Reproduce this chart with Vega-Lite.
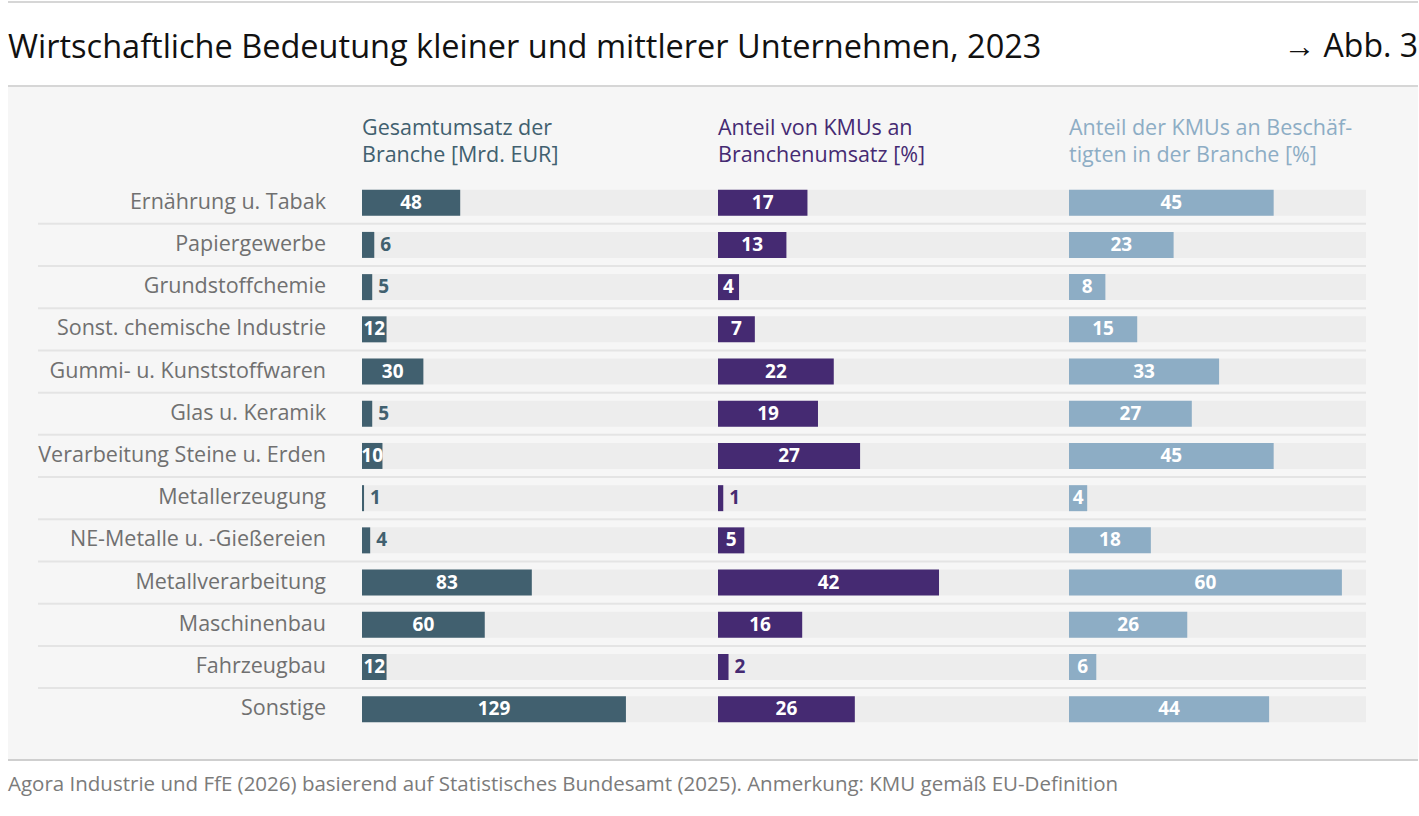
{
  "$schema": "https://vega.github.io/schema/vega-lite/v6.json",
  "background": "white",
  "padding": {"left": 7, "right": 2, "top": 1, "bottom": 0},
  "config": {
    "font": "Open Sans",
    "view": {"stroke": null},
    "title": {"anchor": "start", "frame": "group", "fontWeight": "normal"}
  },
  "datasets": {
    "kmu": [
      {"branche": "Ernährung u. Tabak", "umsatz": 48, "anteil_umsatz": 17, "anteil_besch": 45},
      {"branche": "Papiergewerbe", "umsatz": 6, "anteil_umsatz": 13, "anteil_besch": 23},
      {"branche": "Grundstoffchemie", "umsatz": 5, "anteil_umsatz": 4, "anteil_besch": 8},
      {"branche": "Sonst. chemische Industrie", "umsatz": 12, "anteil_umsatz": 7, "anteil_besch": 15},
      {"branche": "Gummi- u. Kunststoffwaren", "umsatz": 30, "anteil_umsatz": 22, "anteil_besch": 33},
      {"branche": "Glas u. Keramik", "umsatz": 5, "anteil_umsatz": 19, "anteil_besch": 27},
      {"branche": "Verarbeitung Steine u. Erden", "umsatz": 10, "anteil_umsatz": 27, "anteil_besch": 45},
      {"branche": "Metallerzeugung", "umsatz": 1, "anteil_umsatz": 1, "anteil_besch": 4},
      {"branche": "NE-Metalle u. -Gießereien", "umsatz": 4, "anteil_umsatz": 5, "anteil_besch": 18},
      {"branche": "Metallverarbeitung", "umsatz": 83, "anteil_umsatz": 42, "anteil_besch": 60},
      {"branche": "Maschinenbau", "umsatz": 60, "anteil_umsatz": 16, "anteil_besch": 26},
      {"branche": "Fahrzeugbau", "umsatz": 12, "anteil_umsatz": 2, "anteil_besch": 6},
      {"branche": "Sonstige", "umsatz": 129, "anteil_umsatz": 26, "anteil_besch": 44}
    ]
  },
  "spacing": 0,
  "vconcat": [
    {
      "spacing": 0,
      "bounds": "flush",
      "hconcat": [
        {
          "width": 1000,
          "height": 84,
          "title": {"text": "Wirtschaftliche Bedeutung kleiner und mittlerer Unternehmen, 2023", "fontSize": 32.5, "color": "#111111", "anchor": "start", "offset": -63},
          "data": {"values": [{}]},
          "layer": [
            {"mark": {"type": "rule", "color": "#c8c8c8", "strokeWidth": 1.5}, "encoding": {"y": {"datum": 1, "type": "quantitative", "scale": {"domain": [0, 1]}, "axis": null}}},
            {"mark": {"type": "rule", "color": "#c8c8c8", "strokeWidth": 1.5}, "encoding": {"y": {"datum": 0, "type": "quantitative", "scale": {"domain": [0, 1]}, "axis": null}}}
          ]
        },
        {
          "width": 410,
          "height": 84,
          "title": {"text": "→ Abb. 3", "fontSize": 32, "color": "#111111", "anchor": "end", "offset": -63},
          "data": {"values": [{}]},
          "layer": [
            {"mark": {"type": "rule", "color": "#c8c8c8", "strokeWidth": 1.5}, "encoding": {"y": {"datum": 1, "type": "quantitative", "scale": {"domain": [0, 1]}, "axis": null}}},
            {"mark": {"type": "rule", "color": "#c8c8c8", "strokeWidth": 1.5}, "encoding": {"y": {"datum": 0, "type": "quantitative", "scale": {"domain": [0, 1]}, "axis": null}}}
          ]
        }
      ]
    },
    {
      "spacing": 0,
      "bounds": "flush",
      "hconcat": [
        {
          "width": 30,
          "height": 672,
          "view": {"fill": "#f6f6f6", "stroke": null},
          "data": {"values": []},
          "mark": "rule",
          "encoding": {}
        },
        {
          "width": 324,
          "height": 672,
          "view": {"fill": "#f6f6f6", "stroke": null},
          "data": {"name": "kmu"},
          "encoding": {
            "y": {"field": "branche", "type": "nominal", "sort": null, "axis": null,
              "scale": {"domain": ["Ernährung u. Tabak", "Papiergewerbe", "Grundstoffchemie", "Sonst. chemische Industrie", "Gummi- u. Kunststoffwaren", "Glas u. Keramik", "Verarbeitung Steine u. Erden", "Metallerzeugung", "NE-Metalle u. -Gießereien", "Metallverarbeitung", "Maschinenbau", "Fahrzeugbau", "Sonstige"], "range": [94.6, 643.3], "paddingInner": 0, "paddingOuter": 0}}
          },
          "layer": [
            {
              "transform": [{"filter": "datum.branche !== 'Sonstige'"}],
              "mark": {"type": "rule", "color": "#e4e4e4", "strokeWidth": 2},
              "encoding": {"y": {"field": "branche", "type": "nominal", "sort": null, "bandPosition": 1}}
            },
            {
              "mark": {"type": "text", "align": "right", "baseline": "middle", "dx": -36, "fontSize": 21.5, "color": "#707070"},
              "encoding": {
                "x": {"datum": 1, "type": "quantitative", "scale": {"domain": [0, 1]}, "axis": null},
                "text": {"field": "branche"}
              }
            }
          ]
        },
        {
          "width": 356,
          "height": 672,
          "view": {"fill": "#f6f6f6", "stroke": null},
          "title": {"text": ["Gesamtumsatz der", "Branche [Mrd. EUR]"], "fontSize": 21.5, "lineHeight": 27, "color": "#41606f", "offset": -79},
          "data": {"name": "kmu"},
          "encoding": {
            "y": {"field": "branche", "type": "nominal", "sort": null, "axis": null,
              "scale": {"domain": ["Ernährung u. Tabak", "Papiergewerbe", "Grundstoffchemie", "Sonst. chemische Industrie", "Gummi- u. Kunststoffwaren", "Glas u. Keramik", "Verarbeitung Steine u. Erden", "Metallerzeugung", "NE-Metalle u. -Gießereien", "Metallverarbeitung", "Maschinenbau", "Fahrzeugbau", "Sonstige"], "range": [94.6, 643.3], "paddingInner": 0, "paddingOuter": 0}}
          },
          "layer": [
            {
              "transform": [{"filter": "datum.branche !== 'Sonstige'"}],
              "mark": {"type": "rule", "color": "#e4e4e4", "strokeWidth": 2},
              "encoding": {"y": {"field": "branche", "type": "nominal", "sort": null, "bandPosition": 1}}
            },
            {
              "mark": {"type": "bar", "color": "#ededed", "height": {"band": 0.616}},
              "encoding": {"x": {"datum": 174, "type": "quantitative", "scale": {"domain": [0, 174], "nice": false}, "axis": null}}
            },
            {
              "mark": {"type": "bar", "color": "#41606f", "height": {"band": 0.616}},
              "encoding": {"x": {"field": "umsatz", "type": "quantitative", "scale": {"domain": [0, 174], "nice": false}, "axis": null}}
            },
            {
              "transform": [{"filter": "datum.umsatz >= 10"}],
              "mark": {"type": "text", "color": "white", "fontWeight": "bold", "fontSize": 19, "baseline": "middle"},
              "encoding": {
                "x": {"field": "umsatz", "type": "quantitative", "stack": "zero", "bandPosition": 0.5, "scale": {"domain": [0, 174], "nice": false}, "axis": null},
                "text": {"field": "umsatz"}
              }
            },
            {
              "transform": [{"filter": "datum.umsatz < 10"}],
              "mark": {"type": "text", "color": "#41606f", "fontWeight": "bold", "fontSize": 19, "baseline": "middle", "align": "left", "dx": 6},
              "encoding": {
                "x": {"field": "umsatz", "type": "quantitative", "scale": {"domain": [0, 174], "nice": false}, "axis": null},
                "text": {"field": "umsatz"}
              }
            }
          ]
        },
        {
          "width": 351,
          "height": 672,
          "view": {"fill": "#f6f6f6", "stroke": null},
          "title": {"text": ["Anteil von KMUs an", "Branchenumsatz [%]"], "fontSize": 21.5, "lineHeight": 27, "color": "#452a72", "offset": -79},
          "data": {"name": "kmu"},
          "encoding": {
            "y": {"field": "branche", "type": "nominal", "sort": null, "axis": null,
              "scale": {"domain": ["Ernährung u. Tabak", "Papiergewerbe", "Grundstoffchemie", "Sonst. chemische Industrie", "Gummi- u. Kunststoffwaren", "Glas u. Keramik", "Verarbeitung Steine u. Erden", "Metallerzeugung", "NE-Metalle u. -Gießereien", "Metallverarbeitung", "Maschinenbau", "Fahrzeugbau", "Sonstige"], "range": [94.6, 643.3], "paddingInner": 0, "paddingOuter": 0}}
          },
          "layer": [
            {
              "transform": [{"filter": "datum.branche !== 'Sonstige'"}],
              "mark": {"type": "rule", "color": "#e4e4e4", "strokeWidth": 2},
              "encoding": {"y": {"field": "branche", "type": "nominal", "sort": null, "bandPosition": 1}}
            },
            {
              "mark": {"type": "bar", "color": "#ededed", "height": {"band": 0.616}},
              "encoding": {"x": {"datum": 66.7, "type": "quantitative", "scale": {"domain": [0, 66.7], "nice": false}, "axis": null}}
            },
            {
              "mark": {"type": "bar", "color": "#452a72", "height": {"band": 0.616}},
              "encoding": {"x": {"field": "anteil_umsatz", "type": "quantitative", "scale": {"domain": [0, 66.7], "nice": false}, "axis": null}}
            },
            {
              "transform": [{"filter": "datum.anteil_umsatz >= 4"}],
              "mark": {"type": "text", "color": "white", "fontWeight": "bold", "fontSize": 19, "baseline": "middle"},
              "encoding": {
                "x": {"field": "anteil_umsatz", "type": "quantitative", "stack": "zero", "bandPosition": 0.5, "scale": {"domain": [0, 66.7], "nice": false}, "axis": null},
                "text": {"field": "anteil_umsatz"}
              }
            },
            {
              "transform": [{"filter": "datum.anteil_umsatz < 4"}],
              "mark": {"type": "text", "color": "#452a72", "fontWeight": "bold", "fontSize": 19, "baseline": "middle", "align": "left", "dx": 6},
              "encoding": {
                "x": {"field": "anteil_umsatz", "type": "quantitative", "scale": {"domain": [0, 66.7], "nice": false}, "axis": null},
                "text": {"field": "anteil_umsatz"}
              }
            }
          ]
        },
        {
          "width": 297,
          "height": 672,
          "view": {"fill": "#f6f6f6", "stroke": null},
          "title": {"text": ["Anteil der KMUs an Beschäf-", "tigten in der Branche [%]"], "fontSize": 21.5, "lineHeight": 27, "color": "#8dadc5", "offset": -79},
          "data": {"name": "kmu"},
          "encoding": {
            "y": {"field": "branche", "type": "nominal", "sort": null, "axis": null,
              "scale": {"domain": ["Ernährung u. Tabak", "Papiergewerbe", "Grundstoffchemie", "Sonst. chemische Industrie", "Gummi- u. Kunststoffwaren", "Glas u. Keramik", "Verarbeitung Steine u. Erden", "Metallerzeugung", "NE-Metalle u. -Gießereien", "Metallverarbeitung", "Maschinenbau", "Fahrzeugbau", "Sonstige"], "range": [94.6, 643.3], "paddingInner": 0, "paddingOuter": 0}}
          },
          "layer": [
            {
              "transform": [{"filter": "datum.branche !== 'Sonstige'"}],
              "mark": {"type": "rule", "color": "#e4e4e4", "strokeWidth": 2},
              "encoding": {"y": {"field": "branche", "type": "nominal", "sort": null, "bandPosition": 1}}
            },
            {
              "mark": {"type": "bar", "color": "#ededed", "height": {"band": 0.616}},
              "encoding": {"x": {"datum": 65.3, "type": "quantitative", "scale": {"domain": [0, 65.3], "nice": false}, "axis": null}}
            },
            {
              "mark": {"type": "bar", "color": "#8dadc5", "height": {"band": 0.616}},
              "encoding": {"x": {"field": "anteil_besch", "type": "quantitative", "scale": {"domain": [0, 65.3], "nice": false}, "axis": null}}
            },
            {
              "mark": {"type": "text", "color": "white", "fontWeight": "bold", "fontSize": 19, "baseline": "middle"},
              "encoding": {
                "x": {"field": "anteil_besch", "type": "quantitative", "stack": "zero", "bandPosition": 0.5, "scale": {"domain": [0, 65.3], "nice": false}, "axis": null},
                "text": {"field": "anteil_besch"}
              }
            }
          ]
        },
        {
          "width": 52,
          "height": 672,
          "view": {"fill": "#f6f6f6", "stroke": null},
          "data": {"values": []},
          "mark": "rule",
          "encoding": {}
        }
      ]
    },
    {
      "width": 1410,
      "height": 58,
      "title": {"text": "Agora Industrie und FfE (2026) basierend auf Statistisches Bundesamt (2025). Anmerkung: KMU gemäß EU-Definition", "fontSize": 20.5, "color": "#7b7b7b", "anchor": "start", "offset": -36},
      "data": {"values": [{}]},
      "mark": {"type": "rule", "color": "#cfcfcf", "strokeWidth": 2},
      "encoding": {"y": {"datum": 1, "type": "quantitative", "scale": {"domain": [0, 1]}, "axis": null}}
    }
  ]
}
